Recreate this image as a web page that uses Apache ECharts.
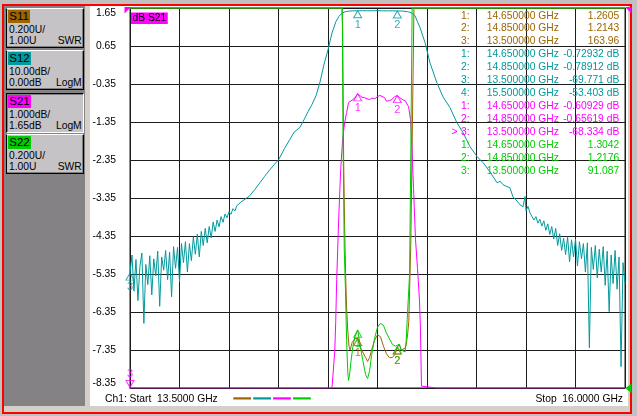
<!DOCTYPE html>
<html><head><meta charset="utf-8">
<script src="https://cdn.jsdelivr.net/npm/echarts@6/dist/echarts.min.js"></script>
<style>
html,body{margin:0;padding:0;background:#c0c0c0;width:637px;height:416px;overflow:hidden;font-family:'Liberation Sans',Arial,sans-serif;}
#frame{position:absolute;left:2px;top:4px;width:630px;height:410px;border:2px solid #ff0000;box-sizing:border-box;background:#d4d0c8;}
#leftpanel{position:absolute;left:4px;top:6px;width:81px;height:400px;background:#848284;}
#sep{position:absolute;left:85px;top:6px;width:5px;height:400px;background:#d4d0c8;border-right:1px solid #fff;}
#plotbg{position:absolute;left:91px;top:6px;width:537px;height:400px;background:#fff;}
.btn{position:absolute;left:6px;width:78px;height:40px;background:#c6c3c6;box-sizing:border-box;border:1px solid;border-color:#fff #000 #000 #000;box-shadow:inset -1px -1px #808080;font-size:10.3px;color:#000;}
.btn.sel{border-color:#000 #fff #fff #000;box-shadow:inset 1px 1px #808080;}
.tag{position:absolute;left:1.3px;top:1px;height:13px;line-height:13px;padding:0 1px;font-size:11.5px;}
.l2{position:absolute;left:2px;top:15px;line-height:12px;white-space:pre;}
.l3{position:absolute;left:2px;top:25.7px;line-height:12px;white-space:pre;}
.r3{position:absolute;right:1.3px;top:25.7px;line-height:12px;}
#chart{position:absolute;left:0;top:0;width:637px;height:416px;}
</style></head>
<body>
<div id="frame"></div>
<div id="leftpanel"></div>
<div id="sep"></div>
<div id="plotbg"></div>
<div id="buttons"></div>
<div id="chart"></div>
<script>
// ---------------- DATA ----------------
const traceNames = ['S11', 'S12', 'S21', 'S22'];
const traceColors = ['#9c6500', '#00999c', '#ff00ff', '#00cc00'];
const traceScale = ['0.200U/', '10.00dB/', '1.000dB/', '0.200U/'];
const traceRef = ['1.00U', '0.00dB', '1.65dB', '1.00U'];
const traceFormat = ['SWR', 'LogM', 'LogM', 'SWR'];
const activeTrace = 'S21';

const freqRange = [13.5, 16.0];            // GHz, start / stop
const yTickLabels = ['-8.35', '-7.35', '-6.35', '-5.35', '-4.35', '-3.35', '-2.35', '-1.35', '-0.35', '0.65', '1.65'];
const s21Range = [-8.35, 1.65];             // dB   (1 dB/div, ref 1.65 at top)
const s12Range = [-100, 0];                 // dB   (10 dB/div, ref 0 at top)
const swrRange = [1.0, 3.0];                // U    (0.2 U/div, ref 1.00 at bottom)

const s11Trace = [[13.50,163.96],[13.80,95],[14.10,48],[14.40,12],[14.55,4.2],[14.570,3.4],[14.574,2.9],[14.579,2.2],[14.584,1.85],[14.589,1.6],[14.594,1.42],[14.600,1.30],[14.606,1.22],[14.612,1.20],[14.622,1.24],[14.636,1.26],[14.650,1.2605],[14.660,1.22],[14.675,1.19],[14.690,1.16],[14.700,1.14],[14.710,1.16],[14.720,1.20],[14.735,1.25],[14.750,1.28],[14.765,1.27],[14.780,1.22],[14.795,1.18],[14.810,1.16],[14.825,1.16],[14.840,1.18],[14.850,1.2143],[14.860,1.23],[14.870,1.20],[14.880,1.19],[14.890,1.21],[14.895,1.23],[14.902,1.28],[14.908,1.35],[14.913,1.55],[14.918,1.75],[14.924,2.2],[14.929,2.6],[14.934,3.0],[14.940,3.6],[15.00,8],[15.30,40],[15.70,85],[16.00,120]];

const s12Trace = [[13.50,-69.8],[13.51,-65.0],[13.52,-74.5],[13.53,-66.2],[13.54,-77.0],[13.55,-68.0],[13.56,-64.5],[13.57,-83.0],[13.58,-67.5],[13.59,-72.8],
[13.60,-65.2],[13.61,-75.5],[13.62,-66.0],[13.63,-70.5],[13.64,-64.0],[13.65,-78.5],[13.66,-65.5],[13.67,-69.0],[13.68,-63.8],[13.69,-71.5],
[13.70,-64.2],[13.71,-76.0],[13.72,-62.8],[13.73,-68.5],[13.74,-63.0],[13.75,-72.0],[13.76,-62.0],[13.77,-67.0],[13.78,-61.5],[13.79,-69.5],
[13.80,-62.0],[13.81,-66.5],[13.82,-60.2],[13.83,-64.8],[13.84,-59.5],[13.85,-65.5],[13.86,-58.8],[13.87,-62.5],[13.88,-58.0],[13.89,-61.8],
[13.90,-57.5],[13.91,-60.5],[13.92,-56.3],[13.93,-58.8],[13.94,-55.8],[13.95,-57.6],[13.96,-54.9],[13.97,-56.4],[13.98,-54.2],[13.99,-55.2],
[14.00,-53.6],[14.01,-54.3],[14.02,-52.8],[14.03,-53.4],[14.04,-52.0],[14.05,-52.4],[14.06,-51.1],[14.07,-51.4],
[14.105,-49.4],[14.13,-47.8],[14.156,-46.0],[14.18,-44.3],[14.206,-42.6],[14.23,-41.1],[14.251,-39.9],[14.28,-37.0],[14.307,-34.6],[14.33,-32.6],
[14.357,-31.5],[14.38,-29.3],[14.40,-27.2],[14.42,-25.3],[14.44,-23.0],[14.46,-19.4],[14.48,-14.8],[14.50,-11.0],[14.52,-6.6],[14.54,-3.6],
[14.555,-2.2],[14.57,-1.4],[14.585,-1.0],[14.60,-0.85],[14.625,-0.76],[14.65,-0.72932],[14.675,-0.71],[14.70,-0.74],[14.725,-0.72],[14.75,-0.70],
[14.775,-0.73],[14.80,-0.76],[14.825,-0.74],[14.85,-0.78912],[14.875,-0.80],[14.90,-0.95],[14.912,-1.1],[14.926,-1.4],[14.939,-2.0],[14.952,-3.6],
[14.965,-5.2],[14.99,-9.1],[15.015,-14.4],[15.05,-19.7],[15.081,-23.4],[15.116,-26.2],[15.151,-30.2],[15.182,-32.8],[15.217,-36.5],[15.253,-39.1],
[15.283,-40.7],[15.318,-43.1],[15.354,-46.0],[15.37,-45.6],[15.384,-46.5],[15.40,-46.9],[15.419,-47.3],[15.434,-49.7],[15.45,-50.5],[15.47,-51.8],
[15.485,-52.3],[15.495,-49.6],[15.50,-53.403],[15.51,-52.2],[15.52,-53.9],[15.53,-54.2],[15.54,-55.8],[15.55,-54.9],[15.56,-56.6],[15.57,-55.6],[15.58,-57.4],
[15.59,-56.0],[15.60,-58.5],[15.61,-56.8],[15.62,-59.6],[15.63,-57.5],[15.64,-60.8],[15.65,-58.0],[15.66,-62.5],[15.67,-59.4],[15.68,-63.8],
[15.69,-60.6],[15.70,-64.9],[15.71,-60.2],[15.72,-66.8],[15.73,-61.0],[15.74,-65.5],[15.75,-60.8],[15.76,-67.9],[15.77,-61.5],[15.78,-66.0],
[15.79,-62.0],[15.80,-69.5],[15.81,-61.8],[15.82,-89.4],[15.83,-63.0],[15.84,-68.8],[15.85,-62.5],[15.86,-71.0],[15.87,-63.5],[15.88,-69.5],
[15.89,-62.8],[15.90,-73.0],[15.91,-64.0],[15.92,-79.9],[15.93,-65.0],[15.94,-72.5],[15.95,-63.8],[15.96,-74.0],[15.97,-65.5],[15.98,-94.4],
[15.99,-67.0],[16.00,-72.5]];

const s21Trace = [[13.50,-68.334],[13.75,-62.0],[14.00,-53.8],[14.25,-39.9],[14.45,-21.0],[14.52,-9.0],[14.529,-8.3],[14.534,-7.4],[14.539,-6.6],[14.544,-5.5],[14.554,-3.9],[14.564,-2.6],[14.574,-1.8],[14.584,-1.37],[14.594,-1.1],[14.604,-0.84],[14.615,-0.80],[14.625,-0.76],[14.635,-0.72],[14.650,-0.60929],[14.660,-0.63],[14.672,-0.70],[14.685,-0.71],[14.698,-0.74],[14.710,-0.76],[14.722,-0.72],[14.736,-0.74],[14.751,-0.68],[14.762,-0.65],[14.771,-0.63],[14.786,-0.71],[14.795,-0.80],[14.801,-0.84],[14.811,-0.79],[14.822,-0.76],[14.837,-0.68],[14.850,-0.65619],[14.862,-0.71],[14.877,-0.76],[14.890,-0.79],[14.897,-0.82],[14.907,-0.95],[14.917,-1.29],[14.922,-1.82],[14.932,-3.1],[14.942,-4.45],[14.952,-5.2],[14.962,-6.03],[14.967,-6.8],[14.972,-8.3],[14.98,-10.5],[15.05,-19.7],[15.25,-39.1],[15.50,-53.4],[15.75,-62.0],[16.00,-70.0]];

const s22Trace = [[13.50,91.087],[13.80,70],[14.10,35],[14.40,9],[14.55,3.8],[14.572,3.2],[14.576,2.31],[14.582,1.73],[14.588,1.52],[14.594,1.25],[14.600,1.08],[14.604,1.04],[14.610,1.08],[14.616,1.14],[14.626,1.22],[14.636,1.27],[14.650,1.3042],[14.660,1.24],[14.675,1.15],[14.690,1.07],[14.700,1.05],[14.710,1.09],[14.720,1.17],[14.735,1.26],[14.750,1.32],[14.765,1.34],[14.780,1.33],[14.795,1.29],[14.810,1.26],[14.825,1.23],[14.840,1.22],[14.850,1.2176],[14.860,1.23],[14.870,1.20],[14.880,1.19],[14.890,1.19],[14.895,1.25],[14.900,1.36],[14.905,1.46],[14.912,1.60],[14.918,2.2],[14.925,3.0],[14.930,4.5],[15.00,10],[15.30,30],[15.70,60],[16.00,80]];

const s11Markers = [[14.65,1.2605],[14.85,1.2143],[13.5,163.96]];
const s12Markers = [[14.65,-0.72932],[14.85,-0.78912],[13.5,-69.771],[15.5,-53.403]];
const s21Markers = [[14.65,-0.60929],[14.85,-0.65619],[13.5,-68.334]];
const s22Markers = [[14.65,1.3042],[14.85,1.2176],[13.5,91.087]];
const markersDrawnOnTrace = 3;   // markers 1..3 carry a symbol on the trace

// ---------------- BUILD ----------------
const FONT = 'Liberation Sans';
const traces = [s11Trace, s12Trace, s21Trace, s22Trace];
const markers = [s11Markers, s12Markers, s21Markers, s22Markers];
const ranges = [swrRange, s12Range, s21Range, swrRange];
const axisIdx = [3, 2, 1, 3];
const units = ['', ' dB', ' dB', ''];

const bt = document.getElementById('buttons');
const btnTops = [8, 50, 93, 134];
traceNames.forEach((n, i) => {
  const d = document.createElement('div');
  d.className = 'btn' + (n === activeTrace ? ' sel' : '');
  d.style.top = btnTops[i] + 'px';
  d.innerHTML = '<span class="tag" style="background:' + traceColors[i] + '">' + n + '</span>' +
    '<span class="l2">' + traceScale[i] + '</span>' +
    '<span class="l3">' + traceRef[i] + '</span>' +
    '<span class="r3">' + traceFormat[i] + '</span>';
  bt.appendChild(d);
});

function clampTo(r, v) { return Math.max(r[0], Math.min(r[1], v)); }

const series = [];
traces.forEach((t, i) => {
  series.push({
    type: 'line', name: traceNames[i], xAxisIndex: 0, yAxisIndex: axisIdx[i],
    data: t.map(p => [p[0], clampTo(ranges[i], p[1])]),
    showSymbol: false, symbol: 'none', animation: false, clip: true,
    lineStyle: { width: 1, color: traceColors[i] }, z: 2 + i
  });
});
traces.forEach((t, i) => {
  const r = ranges[i];
  const pts = [];
  markers[i].forEach((m, k) => {
    if (k >= markersDrawnOnTrace) return;
    const inRange = m[1] >= r[0] && m[1] <= r[1];
    if (inRange) {
      pts.push({ value: [m[0], m[1]], symbolRotate: 0, symbolOffset: [0, 3.5],
        label: { show: true, formatter: String(k + 1), position: 'bottom', distance: 1 } });
    } else if (traceNames[i] === activeTrace) {
      pts.push({ value: [m[0], clampTo(r, m[1])], symbolRotate: 180, symbolOffset: [0, -4],
        label: { show: true, formatter: String(k + 1), position: 'top', distance: 1 } });
    }
  });
  series.push({
    type: 'scatter', xAxisIndex: 0, yAxisIndex: axisIdx[i], data: pts, clip: false,
    symbol: 'triangle', symbolSize: [8, 7], animation: false, silent: true, z: 10,
    itemStyle: { color: 'rgba(0,0,0,0)', borderColor: traceColors[i], borderWidth: 1 },
    label: { color: traceColors[i], fontSize: 11, fontFamily: FONT }
  });
});

const graphics = [];
function txt(x, y, text, color, align) {
  return { type: 'text', x: x, y: y, z: 20, silent: true,
    style: { text: text, fill: color, fontSize: 10.3, fontFamily: FONT, align: align || 'left', verticalAlign: 'middle' } };
}
let row = 0;
traces.forEach((t, i) => {
  markers[i].forEach((m, k) => {
    const y = 15.7 + 12.95 * row;
    const c = traceColors[i];
    const active = traceNames[i] === activeTrace && k === markers[i].length - 1;
    if (active) graphics.push(txt(451.5, y, '>', c, 'left'));
    graphics.push(txt(469.5, y, (k + 1) + ':', c, 'right'));
    graphics.push(txt(486.7, y, m[0].toFixed(6) + ' GHz', c, 'left'));
    graphics.push(txt(619.3, y, m[1].toPrecision(5) + units[i], c, 'right'));
    row++;
  });
});
graphics.push(txt(105, 399.5, 'Ch1: Start  ' + freqRange[0].toFixed(4) + ' GHz', '#000', 'left'));
graphics.push(txt(623, 399.5, 'Stop  ' + freqRange[1].toFixed(4) + ' GHz', '#000', 'right'));
traceColors.forEach((c, i) => {
  graphics.push({ type: 'rect', silent: true, z: 20, shape: { x: 233.3 + i * 19.9, y: 397.3, width: 17.8, height: 2.2 }, style: { fill: c } });
});
graphics.push({ type: 'polygon', silent: true, z: 20, shape: { points: [[124.5, 7], [131, 7], [124.5, 13.5]] }, style: { fill: '#ff00ff' } });
graphics.push({ type: 'polygon', silent: true, z: 20, shape: { points: [[625, 7], [631.5, 7], [631.5, 13.5]] }, style: { fill: '#ff00ff' } });
graphics.push({ type: 'polygon', silent: true, z: 20, shape: { points: [[631.5, 383.5], [625.3, 388.3], [631.5, 393]] }, style: { fill: '#00cc00' } });

const gridColor = '#1c1c1c';
const option = {
  animation: false,
  backgroundColor: 'transparent',
  title: { text: 'dB S21', left: 131, top: 12.5, padding: [0, 1.5], backgroundColor: '#ff00ff',
    textStyle: { fontSize: 10.3, fontWeight: 'normal', color: '#000', fontFamily: FONT, lineHeight: 11.5 } },
  grid: { left: 130, top: 8, width: 495, height: 380, show: true, borderColor: gridColor, borderWidth: 1, backgroundColor: 'transparent' },
  xAxis: [{ type: 'value', min: freqRange[0], max: freqRange[1], interval: 0.25,
    axisLabel: { show: false }, axisTick: { show: false },
    axisLine: { show: true, lineStyle: { color: gridColor, width: 1 } },
    splitLine: { show: true, lineStyle: { color: gridColor, width: 1 } } }],
  yAxis: [
    { type: 'value', min: 0, max: 10, interval: 1, position: 'left',
      axisLabel: { show: true, margin: 14, color: '#000', fontSize: 10.3, fontFamily: FONT,
        formatter: v => yTickLabels[Math.round(v)], verticalAlignMaxLabel: 'top', verticalAlignMinLabel: 'bottom' },
      axisTick: { show: false }, axisLine: { show: true, lineStyle: { color: gridColor, width: 1 } },
      splitLine: { show: true, lineStyle: { color: gridColor, width: 1 } } },
    { type: 'value', min: s21Range[0], max: s21Range[1], show: false, splitLine: { show: false } },
    { type: 'value', min: s12Range[0], max: s12Range[1], show: false, splitLine: { show: false } },
    { type: 'value', min: swrRange[0], max: swrRange[1], show: false, splitLine: { show: false } }
  ],
  graphic: graphics,
  series: series
};
const chart = echarts.init(document.getElementById('chart'), null, { renderer: 'canvas', width: 637, height: 416 });
chart.setOption(option);
</script>
</body></html>
